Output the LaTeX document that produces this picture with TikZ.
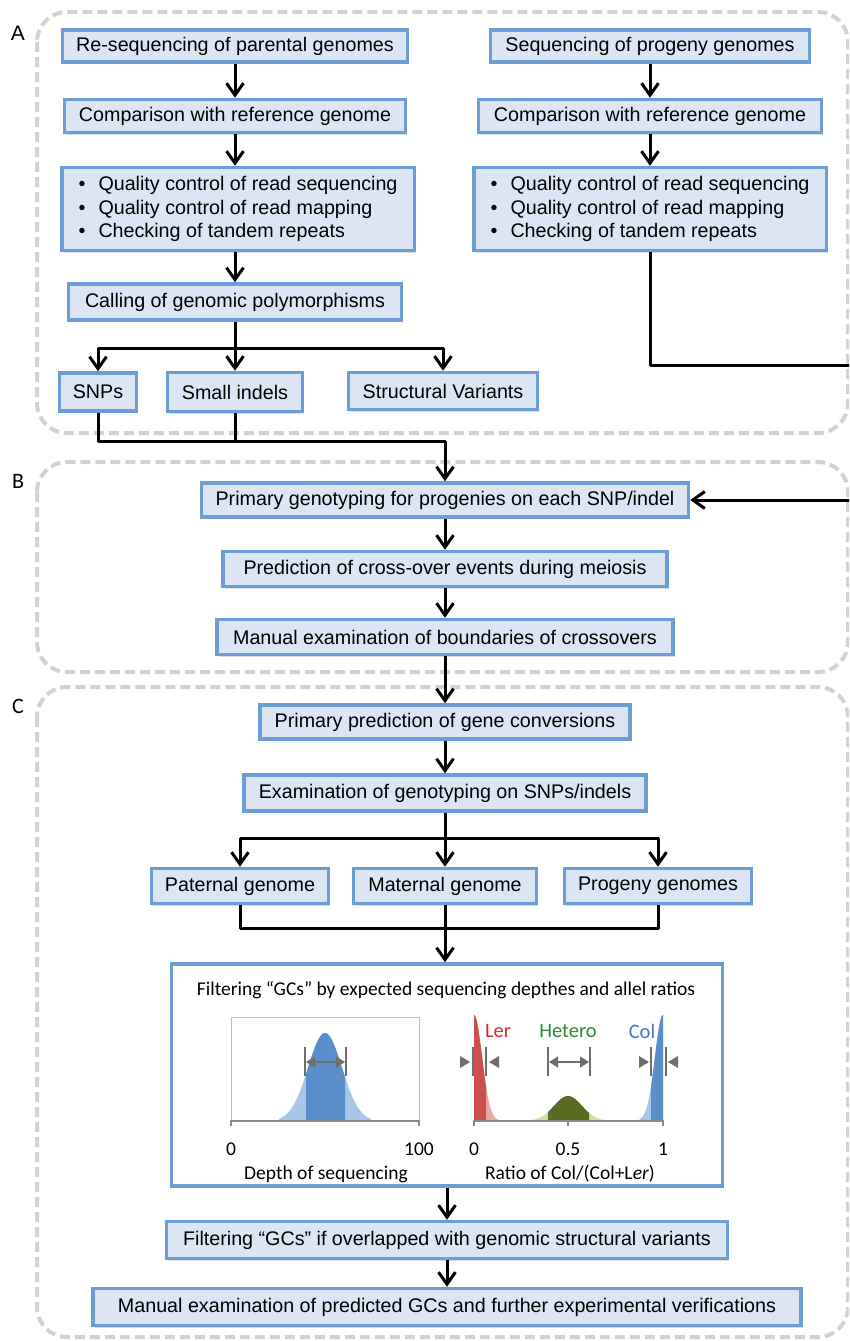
\documentclass[tikz,border=0pt]{standalone}
\usepackage{fontspec}
\setmainfont{Liberation Sans}
\newfontfamily\calib{Carlito}
\usetikzlibrary{arrows.meta,shadows,calc}
\definecolor{boxblue}{HTML}{6C9DD4}
\definecolor{boxfill}{HTML}{DBE5F4}
\definecolor{regiongray}{HTML}{D2D2D2}
\definecolor{belllight}{HTML}{A9C5E8}
\definecolor{belldark}{HTML}{5A8FCB}
\definecolor{redlight}{HTML}{E9AAA6}
\definecolor{reddark}{HTML}{CB4F4A}
\definecolor{greenlight}{HTML}{D2DEAA}
\definecolor{greendark}{HTML}{5B6B21}
\definecolor{lertext}{HTML}{E0262A}
\definecolor{hettext}{HTML}{2E8B3A}
\definecolor{coltext}{HTML}{4A74C0}
\definecolor{mkgray}{HTML}{6E6E6E}
\definecolor{framegray}{HTML}{BDBDBD}
\begin{document}
\begin{tikzpicture}[x=1pt,y=-1pt,
  box/.style={draw=boxblue, line width=3.5pt, fill=boxfill, inner sep=0pt,
    font=\fontsize{19.7}{23.5}\selectfont,
    drop shadow={shadow xshift=1.5pt,shadow yshift=-2pt,opacity=0.28}},
  listbox/.style={box, align=left, minimum width=352.5pt},
  region/.style={draw=regiongray, line width=4pt, dash pattern=on 10pt off 5pt, rounded corners=30pt},
  conn/.style={line width=3pt, line join=round},
  arr/.style={conn, -{Straight Barb[length=12pt,width=17pt]}},
  lbl/.style={font=\fontsize{19.5}{22}\selectfont\calib, inner sep=0pt},
  mk/.style={draw=mkgray, line width=1.6pt},
  mkarr/.style={mk, {Triangle[length=9pt,width=11pt]}-{Triangle[length=9pt,width=11pt]}},
  sect/.style={font=\fontsize{21}{24}\selectfont, inner sep=0pt}
]
\useasboundingbox (0,0) rectangle (849,1341);
\clip (0,0) rectangle (849,1341);

% regions
\draw[region] (37,12) rectangle (848,433);
\draw[region] (37,462) rectangle (848,672);
\draw[region] (37,687) rectangle (848,1337);
\node[sect] (labA) at (18,33) {A};
\node[sect,font=\fontsize{22}{24}\selectfont\calib] (labB) at (18,481) {B};
\node[sect,font=\fontsize{22}{24}\selectfont\calib] (labC) at (18,706) {C};

% part A, left
\node[box, minimum width=345pt, minimum height=32pt] (p1) at (235,46) {Re-sequencing of parental genomes};
\node[box, minimum width=341pt, minimum height=33pt] (p2) at (235,116) {Comparison with reference genome};
\node[listbox, minimum height=83pt] (p3) at (238,209) {\makebox[20pt][l]{\textbullet}Quality control of read sequencing\\\makebox[20pt][l]{\textbullet}Quality control of read mapping\\\makebox[20pt][l]{\textbullet}Checking of tandem repeats};
\node[box, minimum width=333pt, minimum height=36pt] (call) at (235,302) {Calling of genomic polymorphisms};
\node[box, minimum width=77pt, minimum height=38pt] (snp) at (98,392) {SNPs};
\node[box, minimum width=135pt, minimum height=39pt] (indel) at (235,392) {Small indels};
\node[box, minimum width=189pt, minimum height=37pt] (sv) at (443,391) {Structural Variants};

% part A, right
\node[box, minimum width=319pt, minimum height=32pt] (q1) at (650,46) {Sequencing of progeny genomes};
\node[box, minimum width=343pt, minimum height=33pt] (q2) at (650,116) {Comparison with reference genome};
\node[listbox, minimum height=83pt] (q3) at (650,209) {\makebox[20pt][l]{\textbullet}Quality control of read sequencing\\\makebox[20pt][l]{\textbullet}Quality control of read mapping\\\makebox[20pt][l]{\textbullet}Checking of tandem repeats};

% part B
\node[box, minimum width=487pt, minimum height=34pt] (geno) at (445,500) {Primary genotyping for progenies on each SNP/indel};
\node[box, minimum width=444pt, minimum height=35pt] (cross) at (445,569) {Prediction of cross-over events during meiosis};
\node[box, minimum width=456pt, minimum height=35pt] (bound) at (445,637) {Manual examination of boundaries of crossovers};

% part C
\node[box, minimum width=370pt, minimum height=34pt] (gc) at (445,722) {Primary prediction of gene conversions};
\node[box, minimum width=402pt, minimum height=36pt] (exam) at (445,793) {Examination of genotyping on SNPs/indels};
\node[box, minimum width=177pt, minimum height=35pt] (pat) at (240,886) {Paternal genome};
\node[box, minimum width=183pt, minimum height=35pt] (mat) at (445,886) {Maternal genome};
\node[box, minimum width=187pt, minimum height=35pt] (prog) at (658,886) {Progeny genomes};
\node[box, fill=white, minimum width=551pt, minimum height=222pt] (filt) at (447,1075) {};
\node[box, minimum width=561pt, minimum height=37pt] (sv2) at (447,1240) {Filtering “GCs” if overlapped with genomic structural variants};
\node[box, minimum width=708pt, minimum height=37pt] (final) at (447,1307) {Manual examination of predicted GCs and further experimental verifications};

% connectors A
\draw[arr] (p1.south) -- (p1.south |- p2.north);
\draw[arr] (p2.south) -- (p2.south |- p3.north);
\draw[arr] (p2.south |- p3.south) -- (p2.south |- call.north);
\coordinate (j1) at (235,348);
\draw[conn] (call.south) -- (j1);
\draw[arr] (j1) -| (snp.north);
\draw[arr] (j1) -- (indel.north);
\draw[arr] (j1) -| (sv.north);
\coordinate (j2) at (445,441);
\draw[arr] (snp.south) |- (j2) -- (geno.north);
\draw[conn] (indel.south) -- (indel.south |- j2);
\draw[arr] (q1.south) -- (q2.north);
\draw[arr] (q2.south) -- (q3.north);
\coordinate (rc) at (880,365);
\draw[arr] (q3.south) |- (rc) |- (geno.east);

% connectors B/C
\draw[arr] (geno.south) -- (cross.north);
\draw[arr] (cross.south) -- (bound.north);
\draw[arr] (bound.south) -- (gc.north);
\draw[arr] (gc.south) -- (exam.north);
\coordinate (j3) at (445,838);
\draw[conn] (exam.south) -- (j3);
\draw[arr] (j3) -| (pat.north);
\draw[arr] (j3) -- (mat.north);
\draw[arr] (j3) -| (prog.north);
\coordinate (j4) at (445,928);
\draw[conn] (pat.south) |- (prog.south |- j4) -- (prog.south);
\draw[arr] (mat.south) -- (mat.south |- filt.north);
\draw[arr] (filt.south) -- (filt.south |- sv2.north);
\draw[arr] (sv2.south) -- (final.north);

% filtering panel contents
\node[lbl] (ftitle) at (446,990) {Filtering “GCs” by expected sequencing depthes and allel ratios};

% left plot
\fill[belllight] (279,1121) -- plot[domain=-46:46,samples=61] ({325+\x},{1121-88*exp(-(\x*\x)/578)}) -- (371,1121) -- cycle;
\fill[belldark] (306,1121) -- plot[domain=-19:20,samples=31] ({325+\x},{1121-88*exp(-(\x*\x)/578)}) -- (345,1121) -- cycle;
\draw[framegray, line width=1pt] (231,1121) -- (231,1017) -- (419,1017) -- (419,1121);
\draw[mkgray!80, line width=1.2pt] (231,1126) -- (231,1121) -- (419,1121) -- (419,1126);
\draw[mk] (305,1047) -- (305,1076);
\draw[mk] (346,1047) -- (346,1076);
\draw[mkarr] (306,1062) -- (345,1062);
\node[lbl] (t0) at (231,1149) {0};
\node[lbl] (t100) at (419,1149) {100};
\node[lbl] (xl1) at (326,1174) {Depth of sequencing};

% right plot
\fill[redlight] (474,1121) -- plot[domain=0:36,samples=40] ({474+\x},{1121-106*exp(-(\x*\x)/130)}) -- (510,1121) -- cycle;
\fill[reddark] (474,1121) -- plot[domain=0:12,samples=20] ({474+\x},{1121-106*exp(-(\x*\x)/130)}) -- (486,1121) -- cycle;
\fill[greenlight] (530,1121) -- plot[domain=-38:38,samples=61] ({568+\x},{1121-25*exp(-(\x*\x)/392)}) -- (606,1121) -- cycle;
\fill[greendark] (548,1121) -- plot[domain=-20:21,samples=31] ({568+\x},{1121-25*exp(-(\x*\x)/392)}) -- (589,1121) -- cycle;
\fill[belllight] (663,1121) -- plot[domain=0:34,samples=40] ({663-\x},{1121-106*exp(-(\x*\x)/130)}) -- (629,1121) -- cycle;
\fill[belldark] (663,1121) -- plot[domain=0:12,samples=20] ({663-\x},{1121-106*exp(-(\x*\x)/130)}) -- (651,1121) -- cycle;
\draw[mkgray!80, line width=1.2pt] (474,1126) -- (474,1121) -- (663,1121) -- (663,1126);
\draw[mkgray!80, line width=1.2pt] (568,1121) -- (568,1126);
\node[lbl] (r0) at (474,1149) {0};
\node[lbl] (r05) at (568,1149) {0.5};
\node[lbl] (r1) at (663,1149) {1};
\node[lbl] (xl2) at (570,1174) {Ratio of Col/(Col+L\textit{er})};
\node[lbl, text=lertext, font=\fontsize{20.5}{22}\selectfont\calib] (tler) at (498,1031) {Ler};
\node[lbl, text=hettext, font=\fontsize{20.5}{22}\selectfont\calib] (thet) at (568,1031) {Hetero};
\node[lbl, text=coltext, font=\fontsize{20.5}{22}\selectfont\calib] (tcol) at (642,1031) {Col};
% markers
\draw[mk] (473,1047) -- (473,1076);
\draw[mk] (486,1047) -- (486,1076);
\fill[mkgray] (460,1056) -- (470,1062) -- (460,1068) -- cycle;
\fill[mkgray] (499,1056) -- (489,1062) -- (499,1068) -- cycle;
\draw[mk] (548,1047) -- (548,1076);
\draw[mk] (590,1047) -- (590,1076);
\draw[mkarr] (549,1062) -- (589,1062);
\draw[mk] (651,1047) -- (651,1076);
\draw[mk] (666,1047) -- (666,1076);
\fill[mkgray] (639,1056) -- (649,1062) -- (639,1068) -- cycle;
\fill[mkgray] (678,1056) -- (668,1062) -- (678,1068) -- cycle;
\end{tikzpicture}
\end{document}
